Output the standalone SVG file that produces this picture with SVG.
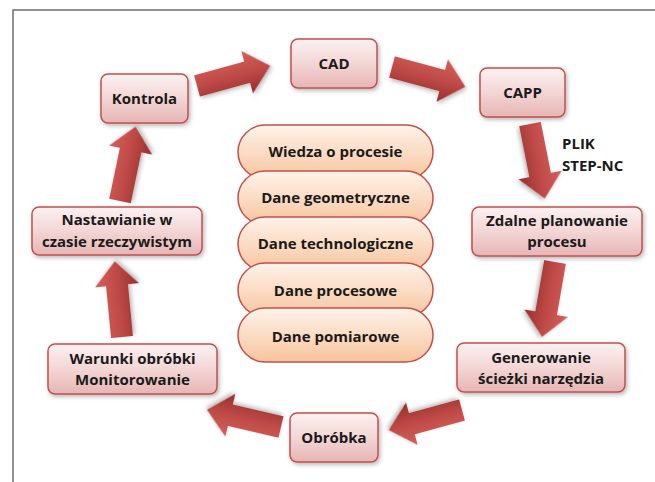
<svg xmlns="http://www.w3.org/2000/svg" width="655" height="482" viewBox="0 0 655 482">
<defs>
<linearGradient id="gNode" x1="0" y1="0" x2="0" y2="1">
<stop offset="0" stop-color="#fcf1f1"/>
<stop offset="0.5" stop-color="#f3d6d5"/>
<stop offset="1" stop-color="#e6b5b4"/>
</linearGradient>
<linearGradient id="gPill" x1="0" y1="0" x2="0" y2="1">
<stop offset="0" stop-color="#fef3ea"/>
<stop offset="0.5" stop-color="#fbdcc4"/>
<stop offset="1" stop-color="#f7c49c"/>
</linearGradient>
<linearGradient id="gArrow" x1="0" y1="0" x2="0" y2="1">
<stop offset="0" stop-color="#d45f5b"/>
<stop offset="0.5" stop-color="#bf4a47"/>
<stop offset="1" stop-color="#962f2d"/>
</linearGradient>
<filter id="shadow" x="-20%" y="-20%" width="150%" height="160%">
<feDropShadow dx="1.5" dy="2" stdDeviation="2" flood-color="#000" flood-opacity="0.28"/>
</filter>
<path id="arrow" d="M0,-11 L52,-11 L52,-22 L76,0 L52,22 L52,11 L0,11 Z"/>
</defs>
<style>
.frame{fill:none;stroke:#6e6e6e;stroke-width:1.5}
.node{fill:url(#gNode);stroke:#c0504d;stroke-width:1.5;filter:url(#shadow)}
.pill{fill:url(#gPill);stroke:#c0504d;stroke-width:1.5}
.arr{fill:url(#gArrow);filter:url(#shadow)}
text{font-family:"Open Sans","DejaVu Sans",sans-serif;font-weight:bold;font-size:15px;fill:#1a1a1a;text-anchor:middle}
.lbl{text-anchor:start}
</style>
<rect width="655" height="482" fill="#ffffff"/>
<path class="frame" d="M13,482 L13,10 L655,10"/>

<g id="connectors">
<use href="#arrow" class="arr" transform="translate(197,86) rotate(-15.4)"/>
<use href="#arrow" class="arr" transform="translate(392,67) rotate(15.1)"/>
<use href="#arrow" class="arr" transform="translate(530,124) rotate(78.8)"/>
<use href="#arrow" class="arr" transform="translate(555,262) rotate(99.8)"/>
<use href="#arrow" class="arr" transform="translate(462,410) rotate(164.7)"/>
<use href="#arrow" class="arr" transform="translate(281,427) rotate(193.1)"/>
<use href="#arrow" class="arr" transform="translate(122,337) rotate(-95.5)"/>
<use href="#arrow" class="arr" transform="translate(120,201) rotate(-78.2)"/>
<text class="lbl" x="562" y="149">PLIK</text>
<text class="lbl" x="562" y="171">STEP-NC</text>
</g>

<g id="kontrola">
<rect class="node" x="101" y="74" width="87" height="49" rx="7"/>
<text x="144.5" y="104">Kontrola</text>
</g>
<g id="cad">
<rect class="node" x="291" y="39" width="86" height="49" rx="7"/>
<text x="334" y="69">CAD</text>
</g>
<g id="capp">
<rect class="node" x="480" y="68" width="85" height="49" rx="7"/>
<text x="522.5" y="98">CAPP</text>
</g>
<g id="zdalne">
<rect class="node" x="472" y="207" width="170" height="49" rx="7"/>
<text x="557" y="226">Zdalne planowanie</text>
<text x="557" y="247">procesu</text>
</g>
<g id="generowanie">
<rect class="node" x="457" y="343" width="168" height="49" rx="7"/>
<text x="541" y="363">Generowanie</text>
<text x="541" y="384">ścieżki narzędzia</text>
</g>
<g id="obrobka">
<rect class="node" x="290" y="413" width="88" height="49" rx="7"/>
<text x="334" y="443">Obróbka</text>
</g>
<g id="warunki">
<rect class="node" x="48" y="344" width="169" height="50" rx="7"/>
<text x="132.5" y="364">Warunki obróbki</text>
<text x="132.5" y="385">Monitorowanie</text>
</g>
<g id="nastawianie">
<rect class="node" x="32" y="207" width="170" height="48" rx="7"/>
<text x="117" y="225">Nastawianie w</text>
<text x="117" y="247">czasie rzeczywistym</text>
</g>

<g id="stack">
<g id="wiedza">
<rect class="pill" x="238" y="125" width="195" height="54" rx="27"/>
<text x="335.5" y="157">Wiedza o procesie</text>
</g>
<g id="geometryczne">
<rect class="pill" x="238" y="171" width="195" height="54" rx="27"/>
<text x="335.5" y="203">Dane geometryczne</text>
</g>
<g id="technologiczne">
<rect class="pill" x="238" y="217" width="195" height="54" rx="27"/>
<text x="335.5" y="249">Dane technologiczne</text>
</g>
<g id="procesowe">
<rect class="pill" x="238" y="263" width="195" height="54" rx="27"/>
<text x="335.5" y="296">Dane procesowe</text>
</g>
<g id="pomiarowe">
<rect class="pill" x="238" y="308" width="195" height="54" rx="27"/>
<text x="335.5" y="342">Dane pomiarowe</text>
</g>
</g>
</svg>
